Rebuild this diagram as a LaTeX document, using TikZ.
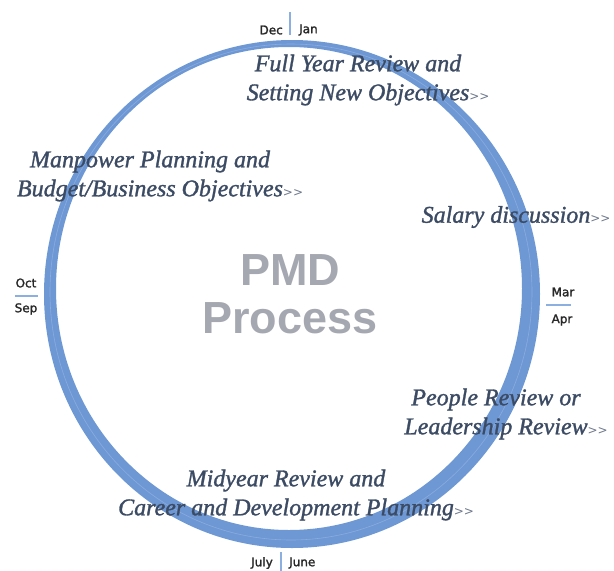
\documentclass[tikz,border=0pt]{standalone}
\usepackage{fontspec}
\setmainfont{Liberation Serif}
\newfontfamily\phasefont{Liberation Serif}[FakeBold=1.3]
\newfontfamily\monthfont{DejaVu Sans}[FakeBold=1.8]
\newfontfamily\arrowfont{DejaVu Sans}
\newfontfamily\titlefont{Liberation Sans}
\usetikzlibrary{positioning}
\definecolor{ringblue}{RGB}{110,152,212}
\definecolor{tickblue}{RGB}{140,175,225}
\definecolor{inkblue}{RGB}{60,75,100}
\definecolor{monthgray}{RGB}{40,40,40}
\definecolor{titlegray}{RGB}{165,168,176}
\newcommand{\nextstep}{\rlap{\arrowfont\fontsize{12}{13}\selectfont\color{inkblue!75}>{}>}}

\begin{document}
\begin{tikzpicture}[
    x=1pt, y=-1pt,
    phase/.style={align=center, text=inkblue, inner sep=0pt, font=\phasefont\fontsize{24}{29}\selectfont\itshape},
    month/.style={text=monthgray, inner sep=0pt, font=\monthfont\fontsize{12}{14}\selectfont},
    tick/.style={tickblue, line width=2.5pt},
    title/.style={align=center, text=titlegray, inner sep=0pt, font=\titlefont\bfseries\fontsize{45}{48}\selectfont},
]
    \useasboundingbox (0,0) rectangle (614,571);
    % brush ring
    \fill[ringblue, even odd rule] (292,294) ellipse [x radius=248, y radius=254]
        (289,288.5) ellipse [x radius=233, y radius=241.5];
    \draw[white, opacity=0.2, line width=0.6pt] (291,292) ellipse [x radius=241, y radius=248];

    % month ticks
    \coordinate (dectop) at (290,12);
    \coordinate (decbot) at (290,35);
    \draw[tick] (dectop) -- (decbot);
    \node[month, anchor=east] (dec) at (283,30) {Dec};
    \node[month, anchor=west] (jan) at (299,30) {Jan};

    \coordinate (octl) at (15,296);
    \coordinate (octr) at (38,296);
    \draw[tick] (octl) -- (octr);
    \node[month] (oct) at (26,283) {Oct};
    \node[month] (sep) at (26,309) {Sep};

    \coordinate (marl) at (546,305);
    \coordinate (marr) at (571,305);
    \draw[tick] (marl) -- (marr);
    \node[month] (mar) at (563,292) {Mar};
    \node[month] (apr) at (562,320) {Apr};

    \coordinate (juntop) at (281,552);
    \coordinate (junbot) at (281,571);
    \draw[tick] (juntop) -- (junbot);
    \node[month, anchor=east] (jul) at (273,563) {July};
    \node[month, anchor=west] (jun) at (289,563) {June};

    % centre title
    \node[title] (pmd) at (290,294) {PMD\\Process};

    % process phases
    \node[phase] (fullyear) at (358,80) {Full Year Review and\\Setting New Objectives\nextstep};
    \node[phase] (manpower) at (150,176) {Manpower Planning and\\Budget/Business Objectives\nextstep};
    \node[phase] (salary) at (506,217) {Salary discussion\nextstep};
    \node[phase] (people) at (496,414) {People Review or\\Leadership Review\nextstep};
    \node[phase] (midyear) at (286,495) {Midyear Review and\\Career and Development Planning\nextstep};
\end{tikzpicture}
\end{document}
